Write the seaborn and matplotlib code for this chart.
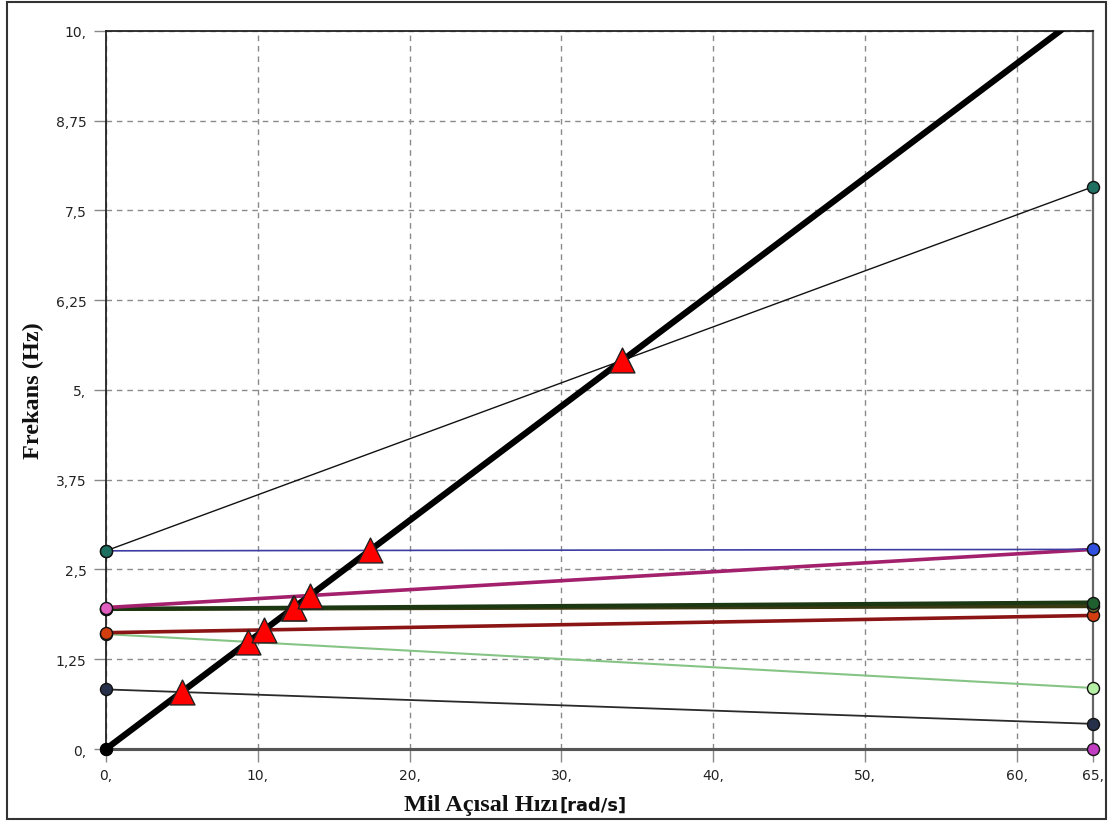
import numpy as np
import pandas as pd
import matplotlib
matplotlib.use("Agg")
import matplotlib.pyplot as plt
from matplotlib.patches import Rectangle
import seaborn as sns

# Shaft speed range (rad/s)
speed_span = [0.0, 65.0]

# Natural frequencies (Hz) of each mode at the start and end of the speed range
mode_names = ["m0", "m1", "m2", "m3", "m4", "m5", "m6", "m7", "m8"]
freq_start = [0.00, 0.83, 1.60, 1.62, 1.95, 1.95, 1.97, 2.76, 2.76]
freq_end   = [0.00, 0.35, 0.85, 1.86, 1.99, 2.04, 2.78, 2.78, 7.83]

line_colors = ["#555555", "#2a2a2a", "#86c486", "#8b1414", "#3a3a12",
               "#1c3812", "#a3206c", "#3c3ca2", "#111111"]
line_widths = [2.2, 1.3, 1.5, 2.6, 3.0, 3.0, 2.6, 1.2, 1.0]
dot_colors  = ["#c03cc0", "#27304a", "#b6f0a6", "#d23e10", "#6a6a2a",
               "#1f5e2e", "#e05ec0", "#3050e0", "#1f7060"]

x_ticks = [0, 10, 20, 30, 40, 50, 60, 65]
x_tick_labels = ["0,", "10,", "20,", "30,", "40,", "50,", "60,", "65,"]
y_ticks = [0, 1.25, 2.5, 3.75, 5, 6.25, 7.5, 8.75, 10]
y_tick_labels = ["0,", "1,25", "2,5", "3,75", "5,", "6,25", "7,5", "8,75", "10,"]

x_title = "Mil Açısal Hızı"
x_unit = "[rad/s]"
y_title = "Frekans (Hz)"

sns.set_theme(style="white")
plt.rcParams["font.family"] = ["DejaVu Sans"]

fig = plt.figure(figsize=(11.13, 8.28), dpi=100)
ax = fig.add_axes([0.0952, 0.0942, 0.8868, 0.8672])

# Mode lines
for i, name in enumerate(mode_names):
    df = pd.DataFrame({"speed": speed_span, "freq": [freq_start[i], freq_end[i]]})
    sns.lineplot(data=df, x="speed", y="freq", ax=ax, color=line_colors[i],
                 lw=line_widths[i], zorder=3 + i * 0.01, clip_on=False)

# 1X excitation line: f = omega / (2*pi)
exc_speed = np.array(speed_span)
exc_df = pd.DataFrame({"speed": exc_speed, "freq": exc_speed / (2 * np.pi)})
sns.lineplot(data=exc_df, x="speed", y="freq", ax=ax, color="black", lw=4.5, zorder=5)

# End-point markers of each mode
for i, name in enumerate(mode_names):
    df = pd.DataFrame({"speed": speed_span, "freq": [freq_start[i], freq_end[i]]})
    sns.scatterplot(data=df, x="speed", y="freq", ax=ax, color=dot_colors[i],
                    s=75, marker="o", edgecolor="#111111", linewidth=1.0,
                    zorder=6 + i * 0.01, clip_on=False)
sns.scatterplot(x=[0.0], y=[0.0], ax=ax, color="black", s=75, marker="o",
                edgecolor="black", zorder=6.5, clip_on=False)

# Crossing points of the modes with the 1X line
cross_x, cross_y = [], []
for i in range(1, len(mode_names)):
    slope = (freq_end[i] - freq_start[i]) / (speed_span[1] - speed_span[0])
    xc = freq_start[i] / (1 / (2 * np.pi) - slope)
    if 0 < xc <= speed_span[1]:
        cross_x.append(xc)
        cross_y.append(xc / (2 * np.pi))
sns.scatterplot(x=cross_x, y=cross_y, ax=ax, color="#ff0000", marker="^",
                s=320, edgecolor="#222222", linewidth=1.0, zorder=8)

ax.set_xlim(0, 65)
ax.set_ylim(0, 10)
ax.set_xticks(x_ticks)
ax.set_xticklabels(x_tick_labels)
ax.set_yticks(y_ticks)
ax.set_yticklabels(y_tick_labels)

ax.grid(True, color="#8a8a8a", linestyle=(0, (4, 3.5)), linewidth=1.0, zorder=0)
ax.set_axisbelow(True)

ax.tick_params(axis="both", which="both", length=9, width=1.0, color="#888888",
               labelsize=10, labelcolor="#222222", direction="out", pad=5,
               left=True, bottom=True)

for side in ["left", "top"]:
    ax.spines[side].set_color("#222222")
    ax.spines[side].set_linewidth(1.3)
ax.spines["right"].set_color("#666666")
ax.spines["right"].set_linewidth(1.6)
ax.spines["bottom"].set_color("#555555")
ax.spines["bottom"].set_linewidth(2.2)

ax.set_xlabel("")
ax.set_ylabel(y_title, fontsize=17.5, fontweight="bold",
              family="Liberation Serif", color="#111111")
ax.yaxis.set_label_coords(-0.063, 0.5)

# Horizontal axis title: serif name followed by a sans-serif unit
t_name = fig.text(558 / 1113, 1 - 806 / 828, x_title, ha="right", va="center",
                  fontsize=17.5, fontweight="bold", family="Liberation Serif",
                  color="#111111")
ax.annotate(x_unit, xy=(1.0, 0.5), xycoords=t_name, xytext=(1, 0),
            textcoords="offset points", ha="left", va="center",
            fontsize=13, fontweight="bold", family="DejaVu Sans", color="#111111")

# Outer frame around the whole figure
fig.patches.append(Rectangle((0.0063, 0.0097), 0.9874, 0.9867, transform=fig.transFigure,
                             fill=False, edgecolor="#333333", linewidth=1.5))

fig.savefig("out.png", dpi=100, facecolor="white")
